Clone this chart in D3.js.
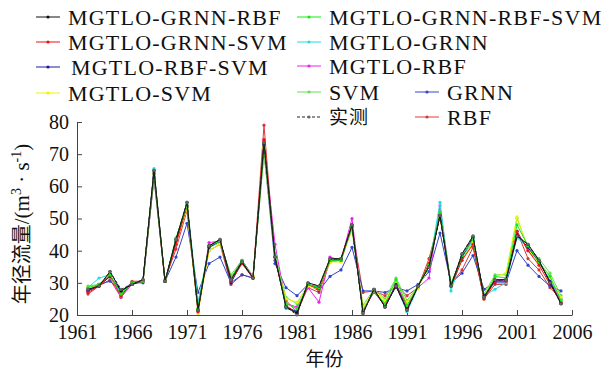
<!DOCTYPE html>
<html>
<head>
<meta charset="utf-8">
<script src="https://cdn.jsdelivr.net/npm/d3@7"></script>
<style>
  body { margin: 0; background: #fff; }
  svg { display: block; }
  text { font-family: "Liberation Serif", "Times New Roman", serif; fill: #111; }
  .cjk { font-family: "Noto Sans CJK SC", sans-serif; }
</style>
</head>
<body>
<div id="chart"></div>
<script>
// years 1962..2005
const years = d3.range(1962, 2006);
const xTicks = [1961, 1966, 1971, 1976, 1981, 1986, 1991, 1996, 2001, 2006];
const yTicks = [20, 30, 40, 50, 60, 70, 80];

const observed = [28, 29, 33.5, 28, 29.5, 31, 65, 30.5, 43.5, 55, 21.5, 41.5, 43.5, 31, 36.5, 31.5, 73.5, 38, 22.5, 20, 30, 29, 37.5, 37.5, 48, 20.5, 28, 22.5, 29, 21.5, 29, 35, 51, 29, 39, 44.5, 25.5, 31, 31, 44.5, 42, 37, 30, 23.5];
const mgtloGrnnRbf = [28, 29, 33.5, 27.5, 29.5, 31, 65, 30.5, 43.5, 55, 21.5, 41.5, 43.5, 31, 36.5, 31.5, 73.5, 38, 22.5, 20.5, 30, 29, 37.5, 37.5, 48, 20.5, 28, 22.5, 29, 21.5, 29, 35, 51, 29, 39, 44.5, 25.5, 31, 31, 44.5, 42, 37, 30, 23.5];
const mgtloGrnnSvm = [27, 29, 32.5, 26, 30, 30.5, 64.5, 30.5, 42, 54, 21, 41.5, 43, 30.5, 36, 31.5, 74.5, 38, 23, 20.5, 29.5, 28, 37, 37.5, 48, 21, 27.5, 23, 29, 22, 29, 36, 51, 29, 37, 42, 25, 30.5, 30.5, 46, 40, 35.5, 29.5, 24];
const mgtloRbfSvm = [27.5, 29, 32, 27.5, 29.5, 30.5, 64, 30.5, 43, 54, 21.5, 41, 43, 30, 36.5, 31.5, 73, 38, 22.5, 21, 29.5, 28.5, 37, 37, 47.5, 21, 28, 22.5, 29.5, 22, 29, 35.5, 51, 29.5, 38, 44, 26, 30.5, 31, 45, 41, 36.5, 30.5, 23.5];
const mgtloSvm = [28.5, 29, 32, 26.5, 29.5, 30.5, 63.5, 30.5, 42.5, 53, 20.5, 40, 42, 31.5, 36, 32, 72, 38, 25, 24, 29, 28, 36.5, 36.5, 47, 22.5, 27.5, 24.5, 30, 24, 28.5, 35, 51, 29.5, 37, 42.5, 26, 32, 33, 50.5, 40.5, 36, 31.5, 25.5];
const mgtloGrnnRbfSvm = [28.5, 29.5, 32.5, 26.5, 30, 30.5, 64, 30.5, 44, 54, 22, 41.5, 43, 31.5, 37, 31.5, 72.5, 38.5, 23.5, 22, 29.5, 28.5, 37, 37, 47.5, 21.5, 27.5, 23.5, 31, 23, 29, 35.5, 52, 29.5, 38.5, 43.5, 25.5, 32, 31.5, 48, 41.5, 36.5, 32, 24.5];
const mgtloGrnn = [28.5, 31.5, 32.5, 27, 29.5, 30.5, 65.5, 30.5, 43.5, 55, 24, 41, 43, 30.5, 36, 31.5, 72, 39, 22, 21, 29.5, 28.5, 37, 37, 47.5, 21.5, 27.5, 23.5, 29, 21, 28.5, 35, 55, 27.5, 38, 43, 26, 28, 30, 44, 41, 36, 31, 25];
const mgtloRbf = [27.5, 29.5, 32, 25.5, 29.5, 30.5, 62.5, 30.5, 42.5, 53.5, 21, 42.5, 43, 31.5, 37, 32, 73, 42, 23.5, 22.5, 28.5, 24, 38, 37, 50, 21.5, 27, 23, 29.5, 23, 28.5, 31.5, 54, 29, 38, 44, 26, 30.5, 30.5, 46, 40, 36.5, 31, 24];
const svm = [29, 29.5, 32.5, 26, 29.5, 31, 62.5, 30.5, 43.5, 53.5, 22, 41, 42.5, 32.5, 37, 32, 70, 39, 25.5, 23.5, 29.5, 28, 36.5, 37.5, 46.5, 23, 28, 25, 31.5, 24.5, 29, 36, 52, 30, 37.5, 42.5, 26.5, 32.5, 32.5, 50, 41, 37.5, 33, 26];
const grnn = [27.5, 29.5, 30.5, 27.5, 30, 30, 63, 30.5, 38, 48.5, 27, 36, 38, 30, 32.5, 31.5, 71, 36, 28.5, 26, 29.5, 27.5, 32, 34, 41, 27.5, 27.5, 27, 28.5, 27.5, 29.5, 33.5, 45.5, 30, 33, 38.5, 28, 30, 30, 40, 35.5, 32, 29, 27.5];
const rbf = [26.5, 29, 31, 25.5, 30.5, 30.5, 63.5, 31, 40.5, 52.5, 22, 40, 42, 29.5, 32.5, 31.5, 79, 37, 24.5, 21, 28.5, 27, 36.5, 37, 47, 27, 27.5, 26, 29.5, 26, 28.5, 37.5, 50.5, 29.5, 34, 41, 25, 29.5, 29.5, 46, 37.5, 34, 28.5, 25];

const series = [
  { name: 'RBF', values: rbf, color: '#d83a3a' },
  { name: 'GRNN', values: grnn, color: '#3344cc' },
  { name: 'SVM', values: svm, color: '#66dd55' },
  { name: 'MGTLO-RBF', values: mgtloRbf, color: '#ee22ee' },
  { name: 'MGTLO-GRNN', values: mgtloGrnn, color: '#22dddd' },
  { name: 'MGTLO-SVM', values: mgtloSvm, color: '#f2f200' },
  { name: 'MGTLO-RBF-SVM', values: mgtloRbfSvm, color: '#1a1aa0' },
  { name: 'MGTLO-GRNN-SVM', values: mgtloGrnnSvm, color: '#ee1111' },
  { name: 'MGTLO-GRNN-RBF-SVM', values: mgtloGrnnRbfSvm, color: '#11ee11' },
  { name: 'MGTLO-GRNN-RBF', values: mgtloGrnnRbf, color: '#111111' },
  { name: '实测', values: observed, color: '#222222', dashed: true }
];

const width = 604, height = 375;
const margin = { top: 122, right: 32, bottom: 60, left: 77 };

const svg = d3.select('#chart').append('svg')
  .attr('width', width)
  .attr('height', height);

const x = d3.scaleLinear().domain([1961, 2006]).range([margin.left, width - margin.right]);
const y = d3.scaleLinear().domain([20, 80]).range([height - margin.bottom, margin.top]);

// axes
svg.append('g')
  .attr('transform', `translate(0,${y(20)})`)
  .call(d3.axisBottom(x).tickValues(xTicks).tickFormat(d3.format('d')).tickSizeInner(-5).tickSizeOuter(0).tickPadding(10))
  .call(g => g.select('.domain').attr('stroke', '#444'))
  .call(g => g.selectAll('.tick line').attr('stroke', '#444'))
  .call(g => g.selectAll('text').attr('font-size', 20).attr('font-family', '"Liberation Serif", serif').attr('fill', '#111'));

svg.append('g')
  .attr('transform', `translate(${x(1961)},0)`)
  .call(d3.axisLeft(y).tickValues(yTicks).tickSizeInner(-5).tickSizeOuter(0).tickPadding(8))
  .call(g => g.select('.domain').attr('stroke', '#444'))
  .call(g => g.selectAll('.tick line').attr('stroke', '#444'))
  .call(g => g.selectAll('text').attr('font-size', 20).attr('font-family', '"Liberation Serif", serif').attr('fill', '#111'));

// lines
const line = d3.line()
  .x((d, i) => x(years[i]))
  .y(d => y(d));

series.forEach(s => {
  const g = svg.append('g');
  g.append('path')
    .datum(s.values)
    .attr('fill', 'none')
    .attr('stroke', s.color)
    .attr('stroke-width', 1)
    .attr('stroke-dasharray', s.dashed ? '3,2' : null)
    .attr('d', line);
  g.selectAll('circle')
    .data(s.values)
    .join('circle')
    .attr('cx', (d, i) => x(years[i]))
    .attr('cy', d => y(d))
    .attr('r', 1.6)
    .attr('fill', s.dashed ? '#666' : s.color);
});

// legend
const legendItems = [
  { name: 'MGTLO-GRNN-RBF', x: 36, y: 17 },
  { name: 'MGTLO-GRNN-SVM', x: 36, y: 42 },
  { name: 'MGTLO-RBF-SVM', x: 36, y: 67, dx: 3 },
  { name: 'MGTLO-SVM', x: 36, y: 93 },
  { name: 'MGTLO-GRNN-RBF-SVM', x: 297, y: 17 },
  { name: 'MGTLO-GRNN', x: 297, y: 42 },
  { name: 'MGTLO-RBF', x: 297, y: 66 },
  { name: 'SVM', x: 297, y: 92 },
  { name: '实测', x: 297, y: 117 },
  { name: 'GRNN', x: 415, y: 92 },
  { name: 'RBF', x: 415, y: 117 }
];

const legend = svg.append('g');
legendItems.forEach(item => {
  const s = series.find(d => d.name === item.name);
  const g = legend.append('g').attr('transform', `translate(${item.x},${item.y})`);
  g.append('line')
    .attr('x1', 0).attr('x2', 24)
    .attr('stroke', s.color)
    .attr('stroke-width', 1)
    .attr('stroke-dasharray', s.dashed ? '3,2' : null);
  g.append('circle').attr('cx', 12).attr('r', 1.6).attr('fill', s.dashed ? '#666' : s.color);
  g.append('text')
    .attr('class', s.name === '实测' ? 'cjk' : null)
    .attr('x', 32 + (item.dx || 0))
    .attr('dy', '0.35em')
    .attr('font-size', s.name === '实测' ? 19 : 22)
    .attr('letter-spacing', s.name === '实测' ? 1 : 1.2)
    .text(s.name);
});

// axis titles
svg.append('text')
  .attr('class', 'cjk')
  .attr('x', x(1983.5))
  .attr('y', 366)
  .attr('text-anchor', 'middle')
  .attr('font-size', 19)
  .text('年份');

const yTitle = svg.append('text')
  .attr('transform', `translate(29,224) rotate(-90)`)
  .attr('text-anchor', 'middle')
  .attr('font-size', 21);
yTitle.append('tspan').attr('class', 'cjk').attr('font-size', 20).text('年径流量');
yTitle.append('tspan').text('/(m');
yTitle.append('tspan').attr('font-size', 14).attr('dy', -8).text('3');
yTitle.append('tspan').attr('dy', 8).text(' · s');
yTitle.append('tspan').attr('font-size', 14).attr('dy', -8).text('-1');
yTitle.append('tspan').attr('dy', 8).text(')');
</script>
</body>
</html>
